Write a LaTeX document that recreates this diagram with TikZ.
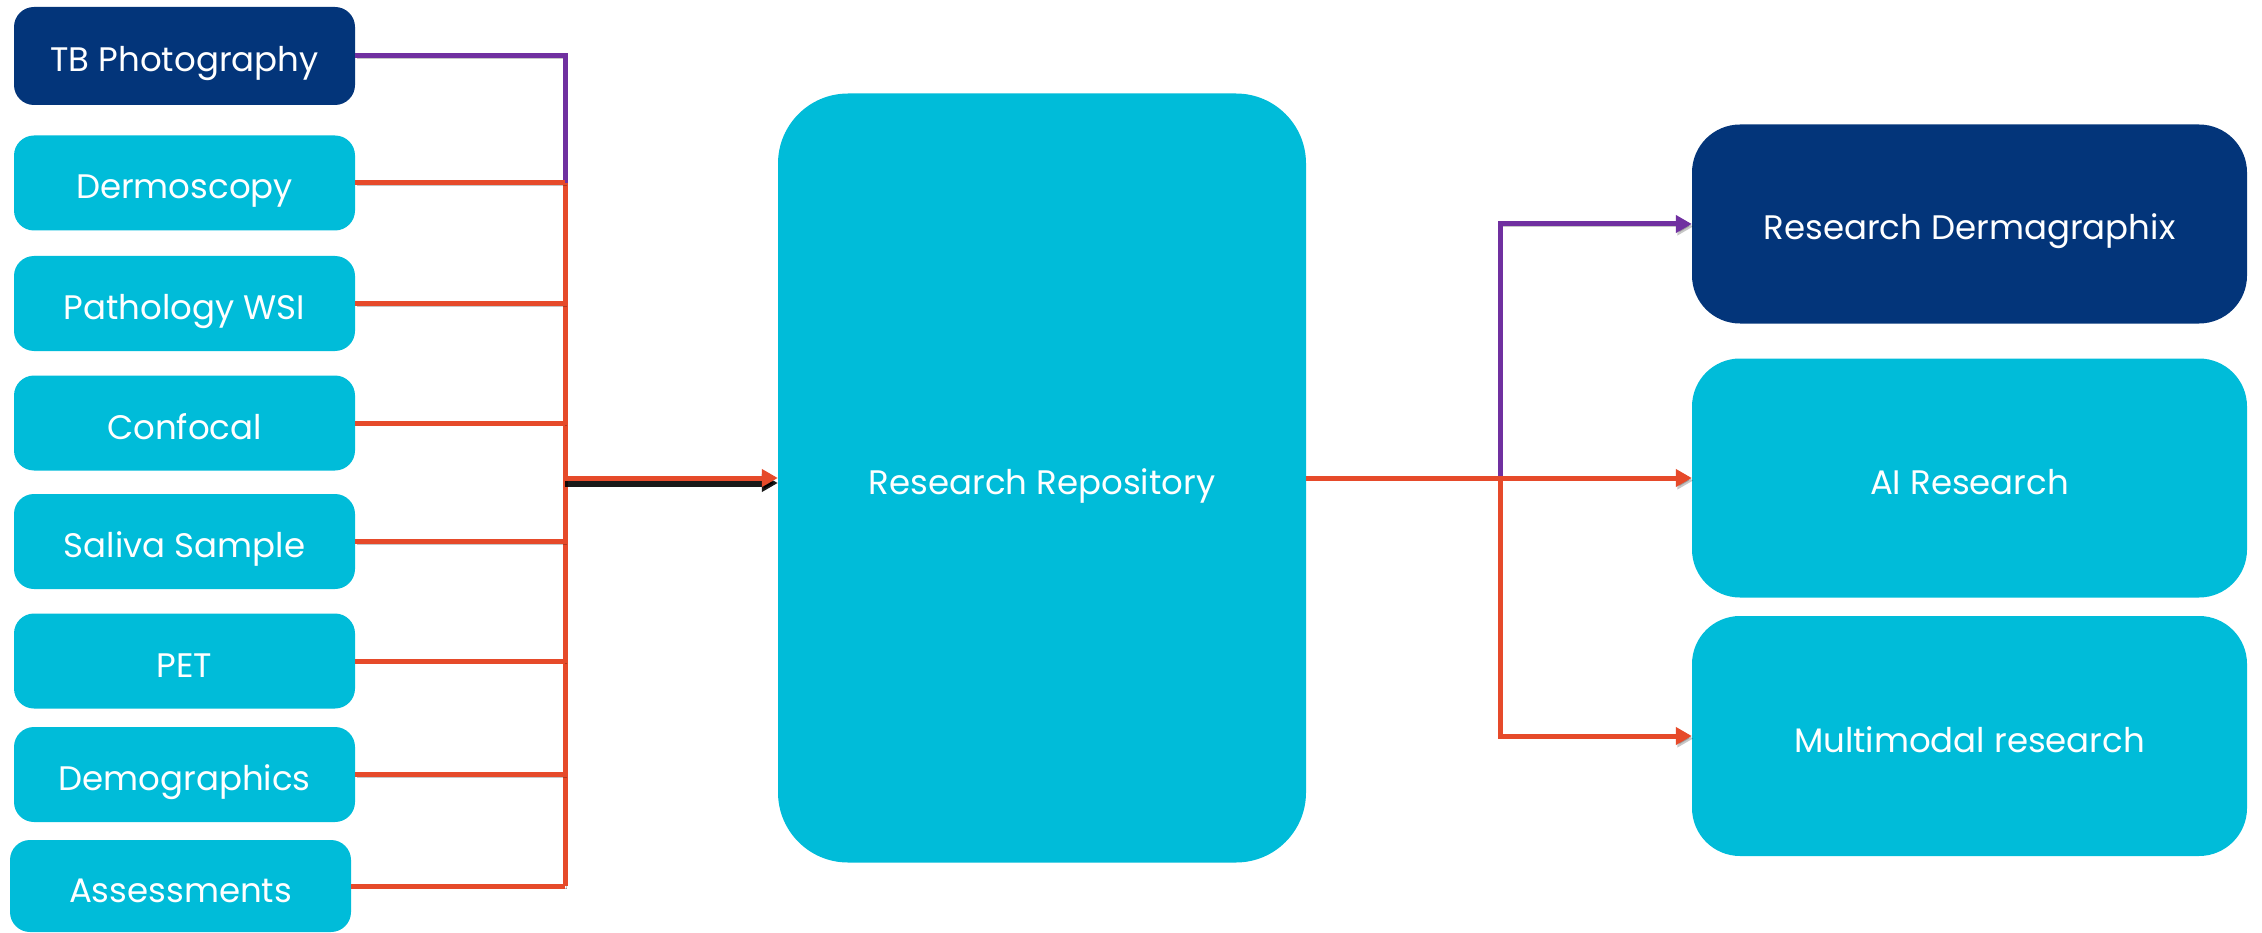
\documentclass[tikz,border=0pt]{standalone}
\usepackage{fontspec}
\setmainfont{Poppins}
\usetikzlibrary{arrows.meta}
\definecolor{navy}{HTML}{03357A}
\definecolor{cyanb}{HTML}{00BCD9}
\definecolor{redline}{HTML}{E64A2A}
\definecolor{purpline}{HTML}{7030A0}
\begin{document}
\begin{tikzpicture}[x=1pt,y=-1pt,
  lbox/.style={rounded corners=20pt, fill=cyanb, text=white, font=\fontsize{34}{40}\selectfont,
    text height=34pt, text depth=2pt,
    minimum width=341pt, minimum height=95pt, inner sep=0pt, anchor=center},
  rbox/.style={rounded corners=48pt, fill=cyanb, text=white, font=\fontsize{34}{40}\selectfont,
    text height=34pt, text depth=2pt,
    minimum width=555pt, minimum height=240pt, inner sep=0pt, anchor=center},
  dark/.style={fill=navy},
  conn/.style={line width=5pt, preaction={draw=black, opacity=0.22, transform canvas={shift={(1.5pt,-2.5pt)}}}},
  rl/.style={conn, draw=redline},
  pl/.style={conn, draw=purpline},
  tip/.style={-{Triangle[length=16pt,width=17pt]}},
  darkshadow/.style={line width=5pt, draw=redline, preaction={draw=black, line width=7pt, opacity=0.9, transform canvas={shift={(0pt,-5pt)}}}}
]
\useasboundingbox (0,0) rectangle (2262,933);

% left boxes
\node[lbox, dark, minimum height=98pt] (tb) at (184.5,56) {TB Photography};
\node[lbox] (derm) at (184.5,183) {Dermoscopy};
\node[lbox] (path) at (184.5,303.5) {Pathology WSI};
\node[lbox] (conf) at (184.5,423) {Confocal};
\node[lbox] (sal) at (184.5,541.5) {Saliva Sample};
\node[lbox] (pet) at (184.5,661) {PET};
\node[lbox] (demo) at (184.5,774.5) {Demographics};
\node[lbox, minimum height=92pt] (assess) at (180.5,886) {Assessments};

% center
\node[rbox, rounded corners=70pt, minimum width=528pt, minimum height=769pt] (repo) at (1042,478) {Research Repository};

% right
\node[rbox, dark, minimum height=199pt] (dgx) at (1969.5,224) {Research Dermagraphix};
\node[rbox, minimum height=239pt] (ai) at (1969.5,478) {AI Research};
\node[rbox, minimum height=240pt] (mm) at (1969.5,736) {Multimodal research};

% bus coordinates
\coordinate (busTop) at (565,183);
\coordinate (busMid) at (565,478);
\coordinate (fork) at (1500,478);

% left connectors
\draw[pl] (tb.east) -| (busTop);
\draw[rl] (busTop) -- (assess.east -| busTop);
\draw[rl] (derm.east) -- (derm.east -| busTop);
\draw[rl] (path.east) -- (path.east -| busTop);
\draw[rl] (conf.east) -- (conf.east -| busTop);
\draw[rl] (sal.east) -- (sal.east -| busTop);
\draw[rl] (pet.east) -- (pet.east -| busTop);
\draw[rl] (demo.east) -- (demo.east -| busTop);
\draw[rl] (assess.east) -- (assess.east -| busTop);
\draw[darkshadow, tip] (busMid) -- (repo.west);

% right connectors
\draw[pl, tip] (fork) |- (dgx.west);
\draw[rl, tip] (repo.east) -- (ai.west);
\draw[rl, tip] (fork) |- (mm.west);
\end{tikzpicture}
\end{document}
